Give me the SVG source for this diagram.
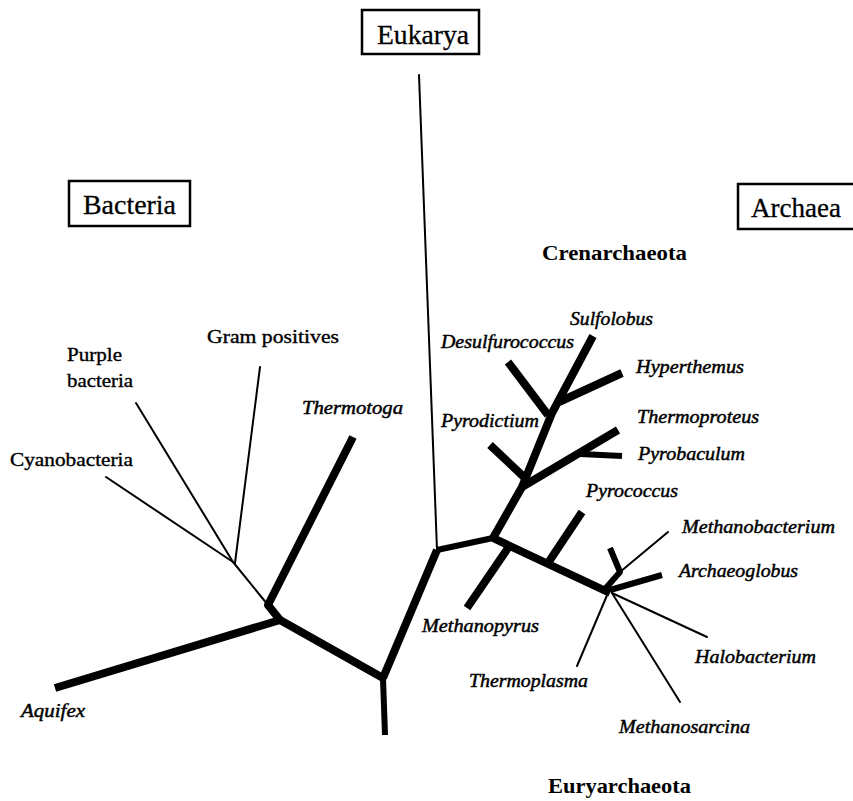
<svg xmlns="http://www.w3.org/2000/svg" width="853" height="801" viewBox="0 0 853 801">
<style>
.box{fill:#fff;stroke:#000;stroke-width:2.5}
.dom{font-family:"Liberation Serif",serif;font-size:28px;fill:#000;stroke:#000;stroke-width:0.3}
.lab{font-family:"Liberation Serif",serif;font-size:18px;fill:#000;stroke:#000;stroke-width:0.35}
.it{font-family:"Liberation Serif",serif;font-size:18px;font-style:italic;fill:#000;stroke:#000;stroke-width:0.45}
.grp{font-family:"Liberation Serif",serif;font-size:22px;font-weight:bold;fill:#000}
.thick{stroke:#000;fill:none;stroke-width:8;stroke-linejoin:round}
.med{stroke:#000;fill:none;stroke-width:6;stroke-linejoin:round}
.thin{stroke:#000;fill:none;stroke-width:2;stroke-linecap:round}
</style>
<rect width="853" height="801" fill="#fff"/>
<g id="connectors">
<path class="thick" d="M55,688 L280,620 L383,678"/>
<path class="med" d="M383,678 L385,735"/>
<path class="thick" d="M383,678 L437,550"/>
<path class="thick" d="M353,437 L268,605 L280,620"/>
<path class="med" d="M437,550 L493,538"/>
<path class="thick" d="M493,538 L522,487 L552,413 L593,336"/>
<path class="thick" d="M508,362 L548,415"/>
<path class="thick" d="M559,402 L622,373"/>
<path class="thick" d="M490,445 L525,478"/>
<path class="thick" d="M522,487 L618,430"/>
<path class="med" d="M580,454 L622,456"/>
<path class="thick" d="M493,538 L610,593"/>
<path class="thick" d="M508,548 L467,608"/>
<path class="thick" d="M548,563 L582,512"/>
<path class="med" d="M610,548 L620,572 L605,589"/>
<path class="med" d="M610,590 L662,575"/>
<path class="thin" d="M260,367 L235,563"/>
<path class="thin" d="M136,403 L233,562"/>
<path class="thin" d="M106,477 L233,562"/>
<path class="thin" d="M233,562 L268,605" stroke-width="2.5"/>
<path class="thin" d="M419,75 L437,550"/>
<path class="thin" d="M620,572 L668,532"/>
<path class="thin" d="M612,593 L707,637"/>
<path class="thin" d="M612,593 L680,702"/>
<path class="thin" d="M608,593 L577,666"/>
</g>
<g id="eukarya"><rect class="box" x="362" y="10" width="117" height="44"/><text class="dom" x="377" y="44" textLength="92" lengthAdjust="spacingAndGlyphs">Eukarya</text></g>
<g id="bacteria"><rect class="box" x="69" y="181" width="121" height="45"/><text class="dom" x="83" y="214" textLength="93" lengthAdjust="spacingAndGlyphs">Bacteria</text></g>
<g id="archaea"><rect class="box" x="738" y="184" width="120" height="45"/><text class="dom" x="751" y="217" textLength="90" lengthAdjust="spacingAndGlyphs">Archaea</text></g>
<g id="crenarchaeota"><text class="grp" x="542" y="260" textLength="145" lengthAdjust="spacingAndGlyphs">Crenarchaeota</text></g>
<g id="euryarchaeota"><text class="grp" x="548" y="793" textLength="143" lengthAdjust="spacingAndGlyphs">Euryarchaeota</text></g>
<g id="gram-positives"><text class="lab" x="207" y="343" textLength="132" lengthAdjust="spacingAndGlyphs">Gram positives</text></g>
<g id="purple-bacteria"><text class="lab" x="67" y="361" textLength="55" lengthAdjust="spacingAndGlyphs">Purple</text><text class="lab" x="67" y="387" textLength="66" lengthAdjust="spacingAndGlyphs">bacteria</text></g>
<g id="cyanobacteria"><text class="lab" x="10" y="466" textLength="123" lengthAdjust="spacingAndGlyphs">Cyanobacteria</text></g>
<g id="thermotoga"><text class="it" x="302" y="414" textLength="101" lengthAdjust="spacingAndGlyphs">Thermotoga</text></g>
<g id="aquifex"><text class="it" x="21" y="717" textLength="64" lengthAdjust="spacingAndGlyphs">Aquifex</text></g>
<g id="sulfolobus"><text class="it" x="570" y="325" textLength="83" lengthAdjust="spacingAndGlyphs">Sulfolobus</text></g>
<g id="desulfurococcus"><text class="it" x="441" y="348" textLength="133" lengthAdjust="spacingAndGlyphs">Desulfurococcus</text></g>
<g id="hyperthemus"><text class="it" x="636" y="373" textLength="108" lengthAdjust="spacingAndGlyphs">Hyperthemus</text></g>
<g id="pyrodictium"><text class="it" x="441" y="427" textLength="98" lengthAdjust="spacingAndGlyphs">Pyrodictium</text></g>
<g id="thermoproteus"><text class="it" x="637" y="423" textLength="122" lengthAdjust="spacingAndGlyphs">Thermoproteus</text></g>
<g id="pyrobaculum"><text class="it" x="638" y="460" textLength="107" lengthAdjust="spacingAndGlyphs">Pyrobaculum</text></g>
<g id="pyrococcus"><text class="it" x="586" y="497" textLength="92" lengthAdjust="spacingAndGlyphs">Pyrococcus</text></g>
<g id="methanobacterium"><text class="it" x="682" y="533" textLength="153" lengthAdjust="spacingAndGlyphs">Methanobacterium</text></g>
<g id="archaeoglobus"><text class="it" x="679" y="577" textLength="119" lengthAdjust="spacingAndGlyphs">Archaeoglobus</text></g>
<g id="methanopyrus"><text class="it" x="422" y="632" textLength="117" lengthAdjust="spacingAndGlyphs">Methanopyrus</text></g>
<g id="halobacterium"><text class="it" x="695" y="663" textLength="121" lengthAdjust="spacingAndGlyphs">Halobacterium</text></g>
<g id="thermoplasma"><text class="it" x="469" y="687" textLength="119" lengthAdjust="spacingAndGlyphs">Thermoplasma</text></g>
<g id="methanosarcina"><text class="it" x="619" y="733" textLength="131" lengthAdjust="spacingAndGlyphs">Methanosarcina</text></g>
</svg>
